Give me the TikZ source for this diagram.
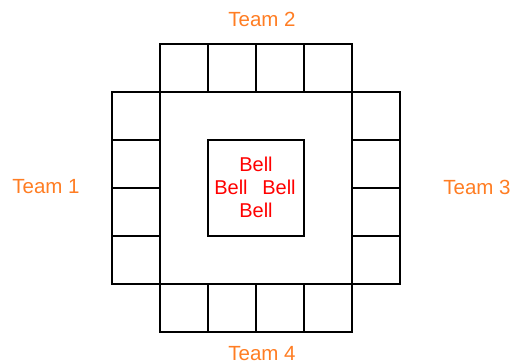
\documentclass[tikz,border=0pt]{standalone}
\usepackage{fontspec}
\setmainfont{Liberation Sans}
\usepackage{tikz}
\usetikzlibrary{positioning}
\definecolor{teamorange}{RGB}{255,125,35}
\definecolor{bellred}{RGB}{255,0,0}

\tikzset{
  cell/.style={draw=black, line width=1.6pt},
  teamlabel/.style={font=\fontsize{20.5}{23}\selectfont, text=teamorange, inner sep=0pt},
  belllabel/.style={font=\fontsize{20}{23}\selectfont, text=bellred, inner sep=0pt}
}

\begin{document}
\begin{tikzpicture}[x=1pt, y=-1pt]
        \useasboundingbox (0,0) rectangle (514,364);

        % Caselle in alto e in basso
        \foreach \i in {0,...,3} {
          \draw[cell] ({160+48*\i},44) rectangle ({208+48*\i},92);
          \draw[cell] ({160+48*\i},284) rectangle ({208+48*\i},332);
        }
        % Caselle a sinistra e a destra
        \foreach \i in {0,...,3} {
          \draw[cell] (112,{92+48*\i}) rectangle (160,{140+48*\i});
          \draw[cell] (352,{92+48*\i}) rectangle (400,{140+48*\i});
        }

        % Quadrato centrale
        \draw[cell] (160,92) rectangle (352,284);
        \draw[cell] (208,140) rectangle (304,236);

        % Campane
        \node[belllabel] (bellT) at (256,164) {Bell};
        \node[belllabel] (bellL) at (231,187) {Bell};
        \node[belllabel] (bellR) at (279,187) {Bell};
        \node[belllabel] (bellB) at (256,210) {Bell};

        % Squadre
        \node[teamlabel] (team1) at (46,187) {Team 1};
        \node[teamlabel] (team2) at (262,19) {Team 2};
        \node[teamlabel] (team3) at (477,187) {Team 3};
        \node[teamlabel] (team4) at (262,354) {Team 4};
    \end{tikzpicture}
\end{document}
